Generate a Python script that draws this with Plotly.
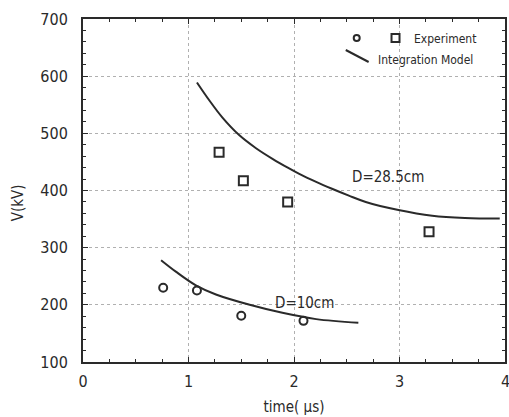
import plotly.graph_objects as go

# Experimental points
t_exp_10 = [0.76, 1.08, 1.50, 2.09]
v_exp_10 = [230, 225, 181, 172]
t_exp_285 = [1.29, 1.52, 1.94, 3.28]
v_exp_285 = [467, 417, 380, 328]

# Integration model curves
t_mod_285 = [1.08, 1.20, 1.32, 1.48, 1.64, 1.80, 1.95, 2.05, 2.21, 2.36, 2.52, 2.68, 2.99, 3.31, 3.62, 3.95]
v_mod_285 = [589, 557, 528, 497, 474, 455, 439, 429, 415, 403, 391, 380, 366, 356, 352, 351]
t_mod_10 = [0.74, 0.88, 1.07, 1.26, 1.58, 1.89, 2.21, 2.61]
v_mod_10 = [278, 258, 234, 218, 200, 186, 175, 168.5]

x_ticks = [0, 1, 2, 3, 4]
y_ticks = [100, 200, 300, 400, 500, 600, 700]

INK = "#2a2a2a"
COND = "DejaVu Sans Condensed, Liberation Sans Narrow, DejaVu Sans"

fig = go.Figure()
fig.add_trace(go.Scatter(x=t_mod_285, y=v_mod_285, mode="lines",
                         line=dict(color=INK, width=2, shape="spline", smoothing=1.0), showlegend=False))
fig.add_trace(go.Scatter(x=t_mod_10, y=v_mod_10, mode="lines",
                         line=dict(color=INK, width=2, shape="spline", smoothing=1.0), showlegend=False))
fig.add_trace(go.Scatter(x=t_exp_285, y=v_exp_285, mode="markers",
                         marker=dict(symbol="square-open", size=9, color=INK, line=dict(width=2, color=INK)), showlegend=False))
fig.add_trace(go.Scatter(x=t_exp_10, y=v_exp_10, mode="markers",
                         marker=dict(symbol="circle-open", size=8, color=INK, line=dict(width=2, color=INK)), showlegend=False))

W, H = 509, 417
L, R, T, B = 83, 2, 19, 55
pw, ph = W - L - R, H - T - B

def px(x):
    return (x - L) / pw

def py(y):
    return (H - B - y) / ph

shapes = [
    dict(type="circle", xref="paper", yref="paper", xsizemode="pixel", ysizemode="pixel",
         xanchor=px(358), yanchor=py(38), x0=-3, x1=3, y0=-3, y1=3, line=dict(color=INK, width=2)),
    dict(type="rect", xref="paper", yref="paper", xsizemode="pixel", ysizemode="pixel",
         xanchor=px(397), yanchor=py(38), x0=-4, x1=4, y0=-4, y1=4, line=dict(color=INK, width=2)),
    dict(type="line", xref="paper", yref="paper", x0=px(347), y0=py(50), x1=px(370), y1=py(62),
         line=dict(color=INK, width=2)),
]

annotations = [
    dict(xref="paper", yref="paper", x=px(414), y=py(39), text="Experiment", showarrow=False,
         xanchor="left", yanchor="middle", font=dict(family=COND, size=12, color=INK)),
    dict(xref="paper", yref="paper", x=px(377), y=py(60), text="Integration Model", showarrow=False,
         xanchor="left", yanchor="middle", font=dict(family=COND, size=12, color=INK)),
    dict(x=2.89, y=423, text="D=28.5cm", showarrow=False, xanchor="center", yanchor="middle",
         font=dict(family=COND, size=15, color=INK)),
    dict(x=2.10, y=204, text="D=10cm", showarrow=False, xanchor="center", yanchor="middle",
         font=dict(family=COND, size=15, color=INK)),
    dict(xref="paper", yref="paper", x=px(18), y=py(203), text="V(kV)", textangle=-90, showarrow=False,
         xanchor="center", yanchor="middle", font=dict(family=COND, size=15, color=INK)),
    dict(x=4, xref="x", yref="paper", y=py(381), text=str(x_ticks[-1]), showarrow=False,
         xanchor="center", yanchor="middle", font=dict(family=COND, size=16, color=INK)),
]

axis_common = dict(showline=True, linecolor=INK, linewidth=2, mirror="ticks", ticks="inside",
                   tickcolor=INK, ticklen=5, tickwidth=1, showgrid=True, gridcolor="#b0b0b0",
                   griddash="dot", gridwidth=1, zeroline=False,
                   tickfont=dict(family=COND, size=16, color=INK))

fig.update_xaxes(range=[0, 4], tickvals=x_ticks[:-1], ticktext=[str(v) for v in x_ticks[:-1]],
                 minor=dict(dtick=0.25, tick0=0, ticks="inside", ticklen=3, tickcolor=INK, showgrid=False),
                 title=dict(text="time( \u03bcs)", font=dict(family=COND, size=15, color=INK), standoff=11),
                 ticklabelstandoff=4, **axis_common)
fig.update_yaxes(range=[100, 700], tickvals=y_ticks, ticktext=[str(v) for v in y_ticks],
                 minor=dict(dtick=20, tick0=100, ticks="inside", ticklen=3, tickcolor=INK, showgrid=False),
                 ticklabelstandoff=10, **axis_common)

fig.update_layout(width=W, height=H, margin=dict(l=L, r=R, t=T, b=B),
                  paper_bgcolor="white", plot_bgcolor="white",
                  shapes=shapes, annotations=annotations, showlegend=False)

fig.write_html("out.html")
